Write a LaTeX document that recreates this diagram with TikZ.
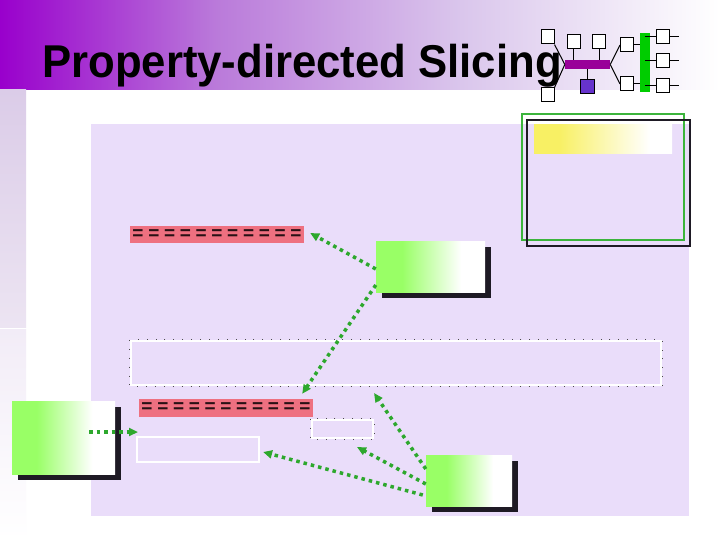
\documentclass[tikz,border=0pt]{standalone}
\usepackage{fontspec}
\setmainfont{Liberation Sans}
\usetikzlibrary{arrows.meta,shadows,calc}
\definecolor{lav}{RGB}{234,221,250}
\definecolor{bpurple}{RGB}{153,0,204}
\definecolor{bmid}{RGB}{186,122,218}
\definecolor{blight}{RGB}{218,198,236}
\definecolor{stripA}{RGB}{219,204,232}
\definecolor{stripB}{RGB}{236,228,242}
\definecolor{stripC}{RGB}{242,236,247}
\definecolor{gfill}{RGB}{153,255,102}
\definecolor{yfill}{RGB}{248,240,100}
\definecolor{salmon}{RGB}{238,112,128}
\definecolor{eqdark}{RGB}{40,16,20}
\definecolor{shadowc}{RGB}{30,26,36}
\definecolor{arrgreen}{RGB}{45,168,45}
\definecolor{logopurple}{RGB}{153,0,153}
\definecolor{logosq}{RGB}{102,51,204}
\definecolor{logogreen}{RGB}{0,204,0}
\definecolor{frgreen}{RGB}{60,180,60}
\pgfdeclarehorizontalshading{greenfade}{100bp}{color(0bp)=(gfill); color(37bp)=(gfill); color(64bp)=(white); color(100bp)=(white)}
\pgfdeclarehorizontalshading{yellowfade}{100bp}{color(0bp)=(yfill); color(34bp)=(yfill); color(67bp)=(white); color(100bp)=(white)}
\pgfdeclarehorizontalshading{bannerfade}{100bp}{color(0bp)=(bpurple); color(25bp)=(bpurple); color(40bp)=(bmid); color(57bp)=(blight); color(75bp)=(white); color(100bp)=(white)}
\newcommand{\eqrow}{=\kern4.7pt=\kern4.7pt=\kern4.7pt=\kern4.7pt=\kern4.7pt=\kern4.7pt=\kern4.7pt=\kern4.7pt=\kern4.7pt=\kern4.7pt=}
\tikzset{
  greenbox/.style={draw=none, shading=greenfade, inner sep=0pt,
    drop shadow={shadow xshift=6pt, shadow yshift=-6pt, fill=shadowc, opacity=1}},
  redbox/.style={fill=salmon, inner sep=0pt, text=eqdark, font=\bfseries\fontsize{19}{19}\selectfont},
  dotbox/.style={draw=white, line width=2.2pt, inner sep=0pt},
  dotover/.style={draw=gray!60!black, line width=0.9pt, dash pattern=on 0.9pt off 8pt},
  arr/.style={draw=arrgreen, line width=3.5pt, dash pattern=on 3.5pt off 4pt,
    -{Triangle[length=9pt,width=8pt]}},
  lbox/.style={draw=black, fill=white, line width=1pt, minimum width=13pt, minimum height=14pt, inner sep=0pt},
  lline/.style={draw=black, line width=1pt},
}
\begin{document}
\begin{tikzpicture}[x=1pt,y=-1pt]
\useasboundingbox (0,0) rectangle (720,540);
\fill[white] (0,0) rectangle (720,540);
% banner
\shade[shading=bannerfade] (0,0) rectangle (720,90);
% left strip
\shade[top color=stripA, bottom color=stripB] (0,90) rectangle (26,327);
\shade[top color=stripC, bottom color=white] (0,329) rectangle (26,540);
% panel
\fill[lav] (91,124) rectangle (689,516);
% title
\node[anchor=base west, inner sep=0pt, font=\bfseries\fontsize{46}{46}\selectfont] (title) at (42,78)
  {\scalebox{0.95}[1]{Property-directed Slicing}};
% logo
\node[fill=logopurple, minimum width=45pt, minimum height=9pt, inner sep=0pt] (pbar) at (587.5,64.5) {};
\node[fill=logogreen, minimum width=10pt, minimum height=59pt, inner sep=0pt] (gbar) at (645,62.5) {};
\node[lbox] (lA) at (547.5,37) {};
\node[lbox] (lA2) at (547.5,95) {};
\node[lbox] (lB) at (573.5,42) {};
\node[lbox] (lC) at (599,42) {};
\node[lbox] (lD) at (627,45) {};
\node[lbox] (lE) at (627,84) {};
\node[lbox] (lR1) at (662.5,37) {};
\node[lbox] (lR2) at (662.5,61) {};
\node[lbox] (lR3) at (662.5,86) {};
\node[lbox, fill=logosq, minimum width=14pt] (lsq) at (587,87) {};
\draw[lline] (lA.south east) -- (pbar.west);
\draw[lline] (lA2.north east) -- (pbar.west);
\draw[lline] (lB.south) -- (lB.south |- pbar.north);
\draw[lline] (lC.south) -- (lC.south |- pbar.north);
\draw[lline] (lsq.north |- pbar.south) -- (lsq.north);
\draw[lline] (pbar.east) -- (lD.west);
\draw[lline] (pbar.east) -- (lE.west);
\draw[lline] (lD.east) -- (lD.east -| gbar.west);
\draw[lline] (lE.east) -- (lE.east -| gbar.west);
\draw[lline] (lR1.west -| gbar.center) -- (lR1.west);
\draw[lline] (lR2.west -| gbar.center) -- (lR2.west);
\draw[lline] (lR3.west -| gbar.center) -- (lR3.west);
\draw[lline] (lR1.east) -- ++(9,0);
\draw[lline] (lR2.east) -- ++(9,0);
\draw[lline] (lR3.east) -- ++(9,0);
% top-right framed area
\node[draw=frgreen, line width=2.5pt, minimum width=162pt, minimum height=126pt, inner sep=0pt] (frg) at (603,177) {};
\node[draw=shadowc, line width=2.5pt, minimum width=163pt, minimum height=126pt, inner sep=0pt] (frb) at (608.5,183) {};
\node[shading=yellowfade, minimum width=138pt, minimum height=29pt, inner sep=0pt] (ybox) at (603,139.5) {};
% boxes
\node[greenbox, minimum width=109pt, minimum height=51pt] (g1) at (430.5,266.5) {};
\node[greenbox, minimum width=103pt, minimum height=73pt] (g2) at (63.5,437.5) {};
\node[greenbox, minimum width=86pt, minimum height=51pt] (g3) at (469,480.5) {};
\node[redbox, minimum width=174pt, minimum height=17pt] (r1) at (217,234.5) {\eqrow};
\node[redbox, minimum width=174pt, minimum height=18pt] (r2) at (226,408) {\eqrow};
\node[dotbox, minimum width=530pt, minimum height=44pt] (wide) at (396,363) {};
\draw[dotover] (wide.north west) rectangle (wide.south east);
\node[dotbox, minimum width=61pt, minimum height=18pt] (small) at (342.5,429) {};
\draw[dotover] (small.north west) rectangle (small.south east);
\node[dotbox, minimum width=122pt, minimum height=25pt] (wb) at (198,449.5) {};
% arrows
\coordinate (a3tail) at (89,432);
\coordinate (a3head) at (138,432);
\coordinate (a4head) at (374,393);
\coordinate (a5head) at (357,447);
\draw[arr] ([yshift=-2.5pt]g1.west) -- ([xshift=6pt,yshift=1.5pt]r1.east);
\draw[arr] ([yshift=-18.5pt]g1.west) -- ([xshift=-11pt,yshift=5pt]r2.north east);
\draw[arr] (a3tail) -- (a3head);
\draw[arr] ([yshift=11.5pt]g3.west) -- (a4head);
\draw[arr] ([yshift=-3.5pt]g3.west) -- (a5head);
\draw[arr] ([xshift=-3pt,yshift=-14.5pt]g3.west) -- ([xshift=3pt,yshift=-2.5pt]wb.east);
\end{tikzpicture}
\end{document}
